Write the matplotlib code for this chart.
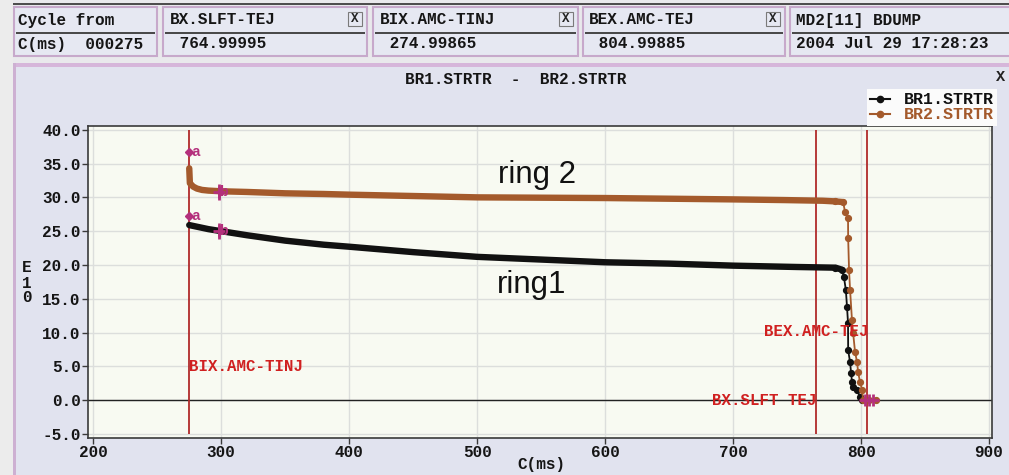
import numpy as np
import matplotlib
matplotlib.use("Agg")
import matplotlib.pyplot as plt
from matplotlib.patches import Rectangle
from matplotlib.lines import Line2D

# ---- data -------------------------------------------------------------
ring1_ms = [275, 280, 290, 300, 320, 350, 380, 400, 450, 500, 550, 600,
            650, 700, 750, 780, 785, 786.6, 788.1, 789.0, 789.8, 789.9,
            791.4, 792.2, 792.9, 793.8, 796.9, 799.2, 801.0]
ring1_e10 = [25.9, 25.7, 25.3, 25.0, 24.4, 23.6, 23.0, 22.7, 21.9, 21.2,
             20.8, 20.4, 20.2, 19.9, 19.7, 19.6, 19.3, 18.2, 16.3, 13.8,
             11.4, 7.4, 5.6, 4.0, 2.7, 1.9, 1.5, 0.4, 0.0]

ring2_ms = [275, 275.5, 278, 281, 285, 290, 300, 320, 350, 380, 400, 450,
            500, 550, 600, 650, 700, 740, 770, 780, 786, 787.5, 789.8,
            789.9, 790.6, 791.4, 792.9, 793.8, 795.3, 796.9, 797.7, 799.2,
            800.8, 801.6, 806.0, 812.0]
ring2_e10 = [34.3, 32.1, 31.6, 31.3, 31.1, 31.0, 30.9, 30.8, 30.6, 30.5,
             30.4, 30.2, 30.0, 29.95, 29.9, 29.8, 29.7, 29.6, 29.5, 29.4,
             29.3, 27.8, 26.9, 24.0, 19.2, 16.3, 11.8, 9.9, 7.1, 5.6, 4.1,
             2.7, 1.5, 0.0, 0.0, 0.0]

# timing events (ms)
event_ms = [275.0, 765.0, 805.0]
event_names = ["BIX.AMC-TINJ", "BX.SLFT TEJ", "BEX.AMC-TEJ"]

# cursor marks a / b on each ring
mark_a_ms, mark_a_vals = [275, 275], [36.7, 27.2]
mark_b_ms, mark_b_vals = [298, 298], [30.8, 25.0]
dump_ms, dump_vals = [803, 806, 809], [0.0, 0.0, 0.0]

xticks = [200, 300, 400, 500, 600, 700, 800, 900]
yticks = [-5, 0, 5, 10, 15, 20, 25, 30, 35, 40]

header_top = ["Cycle from", "BX.SLFT-TEJ", "BIX.AMC-TINJ", "BEX.AMC-TEJ",
              "MD2[11] BDUMP"]
header_bottom = ["C(ms)  000275", " 764.99995", " 274.99865", " 804.99885",
                 "2004 Jul 29 17:28:23"]

# ---- styling ----------------------------------------------------------
MONO = "Liberation Mono"
FS = 11.5
BLACK = "#111111"
BROWN = "#a45a2c"
RED_LINE = "#b02a2a"
RED_TXT = "#d02020"
MAGENTA = "#b4307c"
PANEL = "#e1e3ef"

W, H = 1009, 475
fig = plt.figure(figsize=(W / 100, H / 100), dpi=100, facecolor=PANEL)


def fx(px):
    return px / W


def fy(py):
    return 1 - py / H


def rect(x0, y0, x1, y1, **kw):
    fig.patches.append(Rectangle((fx(x0), fy(y1)), (x1 - x0) / W, (y1 - y0) / H,
                                 transform=fig.transFigure, figure=fig, **kw))


def txt(px, py, s, **kw):
    kw.setdefault("family", MONO)
    kw.setdefault("weight", "bold")
    kw.setdefault("va", "center")
    fig.text(fx(px), fy(py), s, **kw)


# window chrome
rect(0, 0, 13, H, facecolor="#ececec", edgecolor="none")
rect(13, 0, W, 63, facecolor="#e9e9ec", edgecolor="none")
rect(13, 3, W, 5, facecolor="#4e4e4e", edgecolor="none")
rect(13, 63, W, 67, facecolor="#d6b6da", edgecolor="none")
rect(13, 63, 16, H, facecolor="#cdb0d2", edgecolor="none")

cells = [(14, 157), (163, 367), (373, 578), (583, 785), (790, W + 2)]
text_x = [18, 170, 380, 589, 796]
for i, (x0, x1) in enumerate(cells):
    rect(x0, 7, x1, 56, facecolor="#e6e8f2", edgecolor="#c7a9cb", linewidth=1.5)
    rect(x0 + 2, 32, x1 - 2, 33.5, facecolor="#4a4a4a", edgecolor="none")
    txt(text_x[i], 20, header_top[i], fontsize=FS, color="#151515")
    txt(text_x[i], 44, header_bottom[i], fontsize=FS, color="#151515")
    if 0 < i < 4:
        rect(x1 - 19, 12, x1 - 5, 26, facecolor="#e6e8f2", edgecolor="#7a7a7a",
             linewidth=0.8)
        txt(x1 - 12, 19, "X", fontsize=9, ha="center", color="#222222")

# panel title and close box
txt(516, 80, "BR1.STRTR  -  BR2.STRTR", fontsize=FS, ha="center", color="#151515")
txt(1001, 77, "X", fontsize=11, ha="center", color="#222222")

# ---- plot area ----------------------------------------------------------
ax = fig.add_axes([fx(87.5), fy(437.7), (992 - 87.5) / W, (437.7 - 125.7) / H])
ax.set_facecolor("#f8faf2")
ax.set_xlim(195.5, 902.3)
ax.set_ylim(-5.55, 40.6)
ax.set_xticks(xticks)
ax.set_yticks(yticks)
ax.set_xticklabels([str(t) for t in xticks])
ax.set_yticklabels([f"{t:.1f}" for t in yticks])
ax.grid(True, color="#dcdedc", linewidth=1.0)
ax.set_axisbelow(True)
for s in ax.spines.values():
    s.set_color("#3a3a3a")
    s.set_linewidth(1.2)
ax.tick_params(direction="out", length=4, width=1, color="#3a3a3a",
               labelsize=FS, pad=1)
for lab in ax.get_xticklabels() + ax.get_yticklabels():
    lab.set_family(MONO)
    lab.set_weight("bold")
    lab.set_color("#151515")

ax.axhline(0, color="#222222", linewidth=1.0, zorder=2)

# event lines and their labels
ax.vlines(event_ms, -5, 40, colors=RED_LINE, linewidth=1.3, zorder=2)
lab_kw = dict(family=MONO, weight="bold", color=RED_TXT, fontsize=11.3,
              va="center", zorder=6)
ax.text(event_ms[0], 5.0, event_names[0], ha="left", **lab_kw)
ax.text(event_ms[1], 0.0, event_names[1], ha="right", **lab_kw)
ax.text(event_ms[2] + 1, 10.2, event_names[2], ha="right", **lab_kw)

# rings: dense flat part drawn thick, the dump edge with its samples
for ms, vals, col, z in [(ring2_ms, ring2_e10, BROWN, 4),
                         (ring1_ms, ring1_e10, BLACK, 3)]:
    ms = np.asarray(ms)
    vals = np.asarray(vals)
    flat = ms <= 786
    ax.plot(ms[flat], vals[flat], color=col, linewidth=4.6,
            solid_capstyle="round", zorder=z)
    edge = ms >= 780
    ax.plot(ms[edge], vals[edge], color=col, linewidth=1.3, marker="o",
            markersize=4.2, zorder=z)

# cursor marks
ax.plot(mark_a_ms, mark_a_vals, linestyle="none", marker="D", markersize=4,
        color=MAGENTA, zorder=7)
for x, y in zip(mark_a_ms, mark_a_vals):
    ax.text(x + 1.5, y, "a", family=MONO, weight="bold", color=MAGENTA,
            fontsize=10.5, va="center", zorder=7)
ax.plot(mark_b_ms, mark_b_vals, linestyle="none", marker="|", markersize=11,
        markeredgewidth=2, color=MAGENTA, zorder=7)
ax.plot(mark_b_ms, mark_b_vals, linestyle="none", marker="+", markersize=9,
        markeredgewidth=2, color=MAGENTA, zorder=7)
for x, y in zip(mark_b_ms, mark_b_vals):
    ax.text(x + 0.8, y, "b", family=MONO, weight="bold", color=MAGENTA,
            fontsize=10.5, va="center", zorder=7)
ax.plot(dump_ms, dump_vals, color=MAGENTA, linewidth=2.5, marker="+",
        markersize=8, markeredgewidth=2, zorder=7)

# axis labels
txt(27, 267, "E", fontsize=FS, ha="center", color="#151515")
txt(27, 283, "1", fontsize=FS, ha="center", color="#151515")
txt(27, 298, "0", fontsize=FS, ha="center", color="#151515")
txt(541, 465, "C(ms)", fontsize=FS, ha="center", color="#151515")

# ring annotations
txt(537, 175, "ring 2", fontsize=22.5, ha="center", family="Liberation Sans",
    weight="normal", color="#111111")
txt(532, 285, "ring1", fontsize=22.5, ha="center", family="Liberation Sans",
    weight="normal", color="#111111")

# legend
handles = [Line2D([], [], color=BLACK, marker="o", markersize=4.5, linewidth=1.5),
           Line2D([], [], color=BROWN, marker="o", markersize=4.5, linewidth=1.5)]
leg = fig.legend(handles, ["BR1.STRTR", "BR2.STRTR"], loc="upper right",
                 bbox_to_anchor=(fx(997), fy(89)), borderaxespad=0,
                 frameon=True, facecolor="#fbfbfb", edgecolor="none",
                 framealpha=1, fancybox=False, handlelength=1.2,
                 handletextpad=0.8, borderpad=0.2, labelspacing=0.0,
                 prop={"family": MONO, "weight": "bold", "size": 12})
leg.get_texts()[0].set_color(BLACK)
leg.get_texts()[1].set_color(BROWN)

fig.savefig("out.png", dpi=100, facecolor=fig.get_facecolor())
